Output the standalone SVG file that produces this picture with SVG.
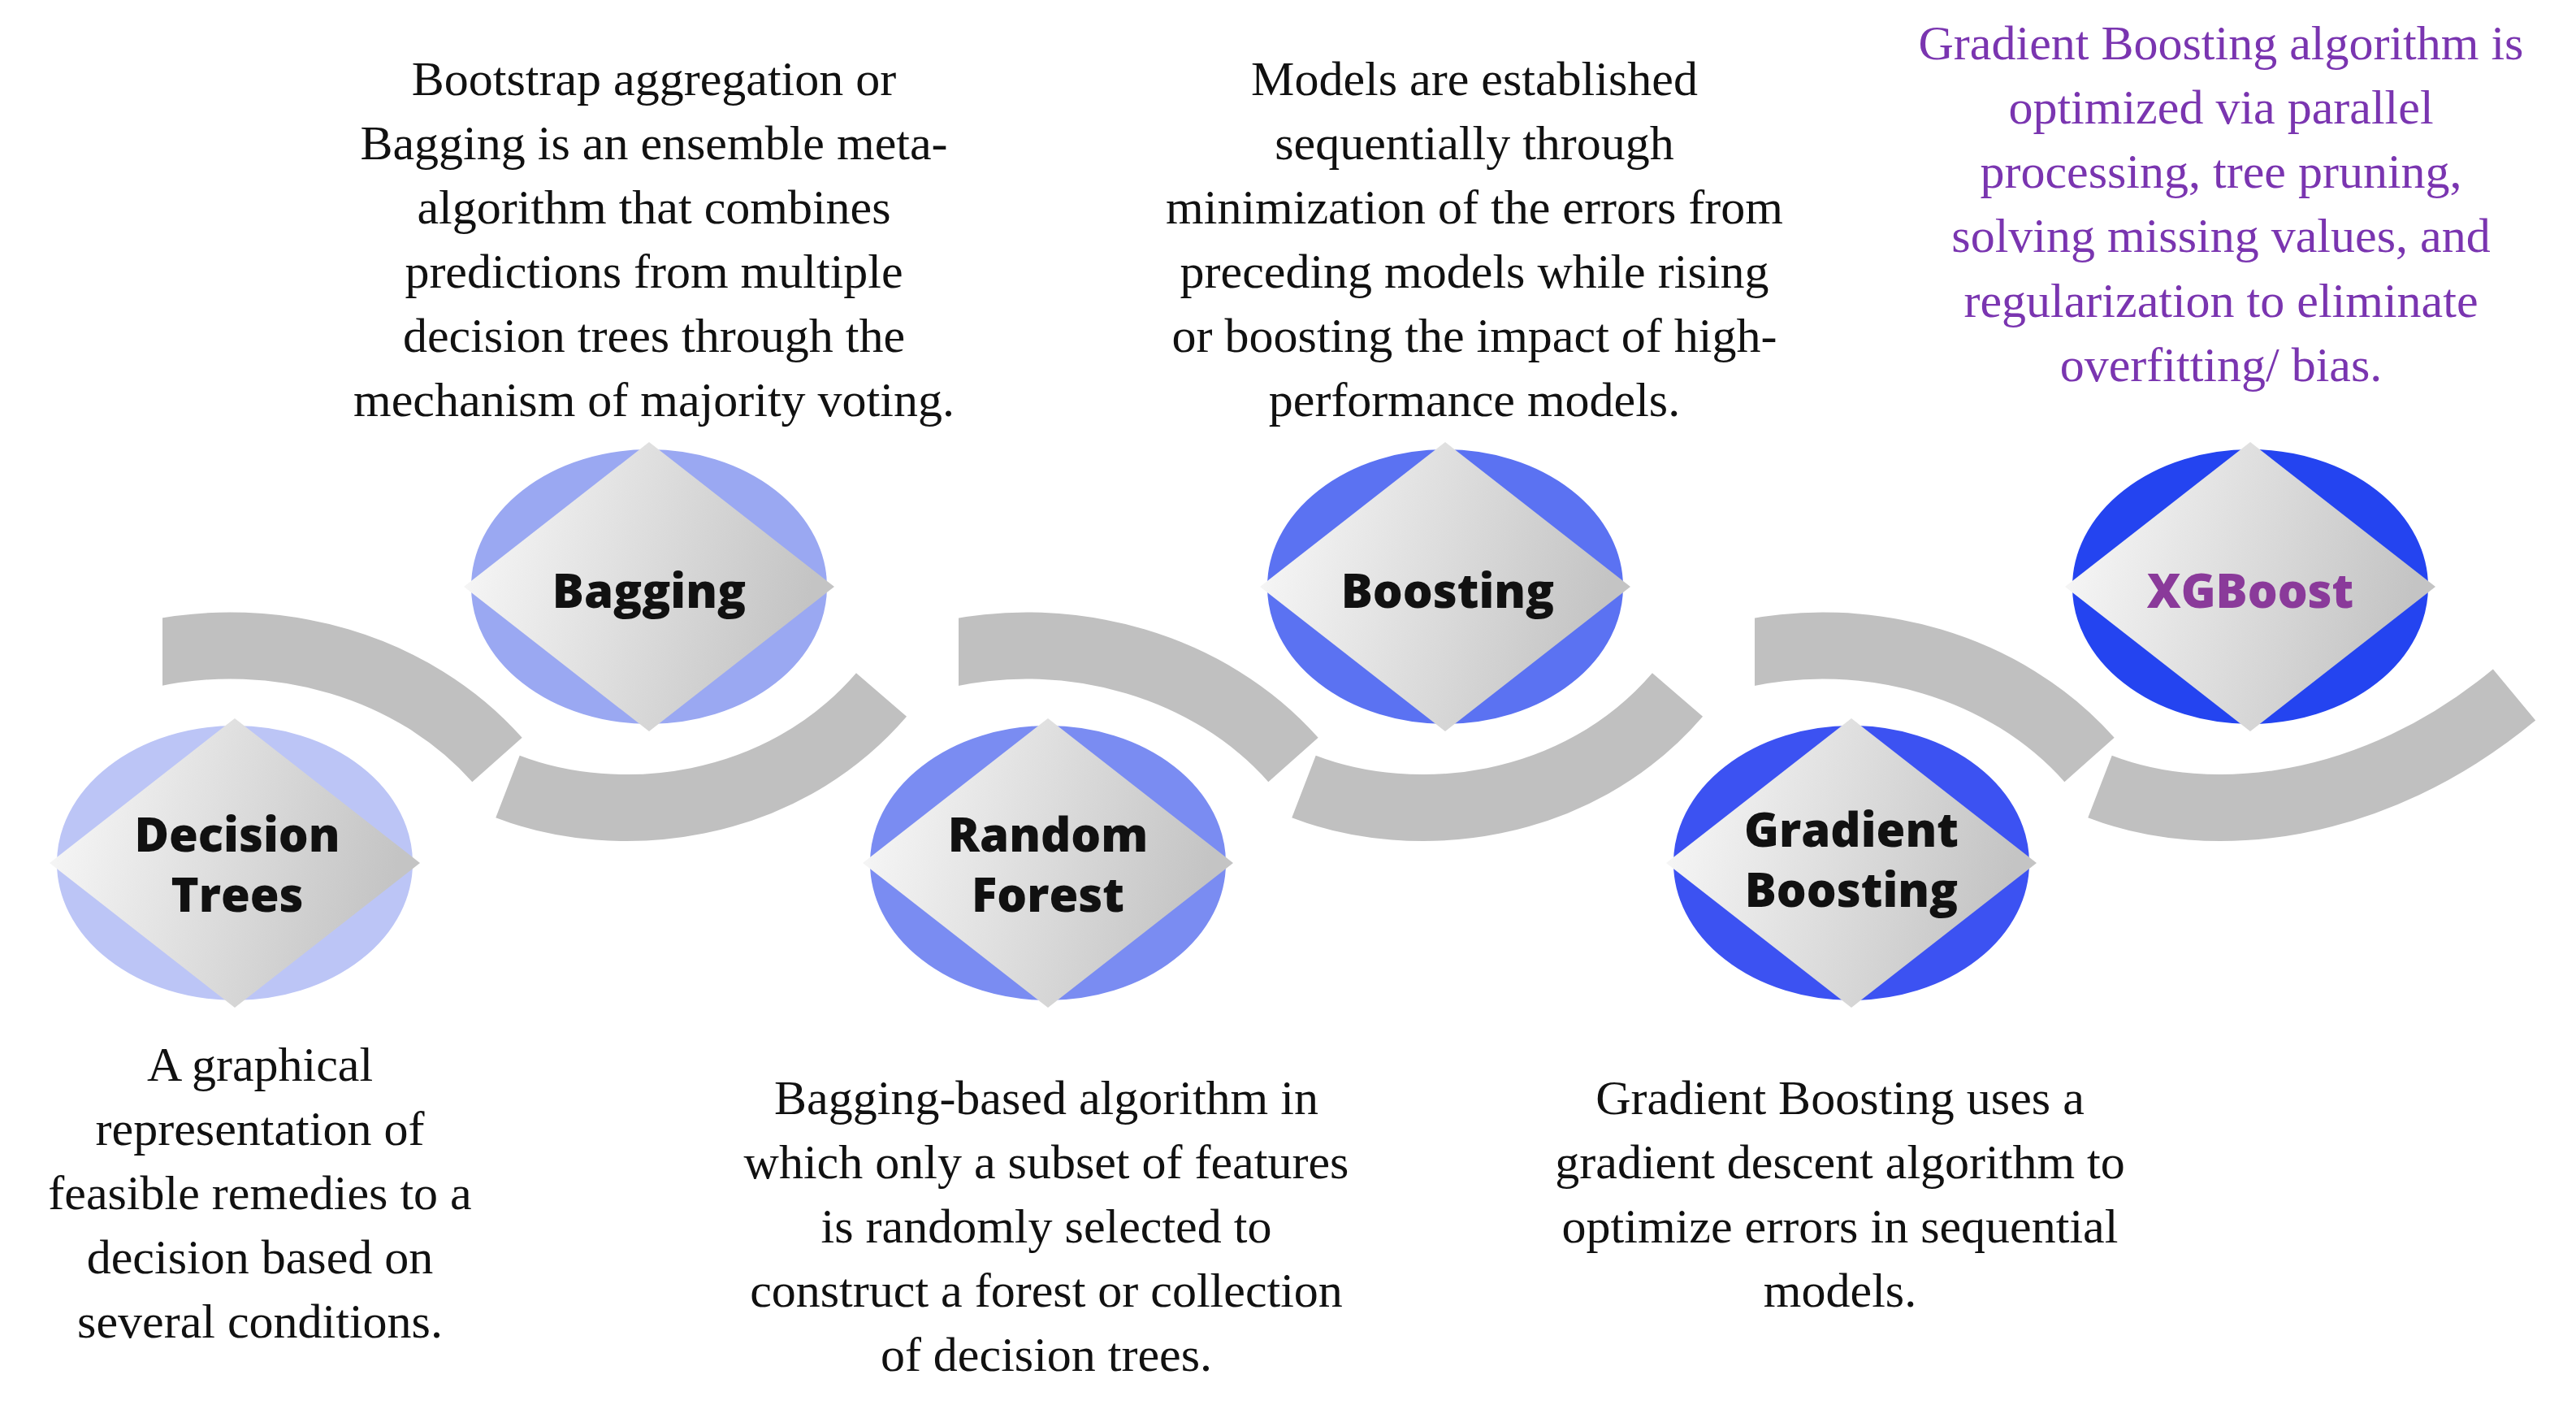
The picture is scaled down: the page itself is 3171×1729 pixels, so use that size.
<svg xmlns="http://www.w3.org/2000/svg" width="3171" height="1729" viewBox="0 0 3171 1729">
<style>
.arc{fill:none;stroke:#c0c0c0;stroke-width:82;stroke-linecap:butt}
.ring{stroke:#ffffff;stroke-width:22}
.lbl{font-family:"Open Sans","DejaVu Sans",sans-serif;font-weight:800;font-size:58px;text-anchor:middle;fill:#111}
.body{font-family:"Liberation Serif",serif;font-size:60px;text-anchor:middle;fill:#111}
.purple{fill:#7a35b0}
</style>
<defs>
<linearGradient id="dg" x1="0" y1="0" x2="1" y2="0.2">
<stop offset="0" stop-color="#fafafa"/><stop offset="1" stop-color="#c4c4c4"/>
</linearGradient>
</defs>
<g id="connectors">
<path class="arc" d="M 180 806 C 340 770 510 820 612 935"/>
<path class="arc" d="M 625 968 C 760 1020 960 1000 1085 855"/>
<path class="arc" d="M 1160 806 C 1320 770 1490 820 1592 935"/>
<path class="arc" d="M 1605 968 C 1740 1020 1940 1000 2065 855"/>
<path class="arc" d="M 2140 806 C 2300 770 2470 820 2572 935"/>
<path class="arc" d="M 2585 968 C 2720 1020 2920 1000 3095 855"/>
<polygon points="110,765 200,760 200,848 165,848" fill="#fff"/>
<polygon points="1090,765 1180,760 1180,848 1145,848" fill="#fff"/>
<polygon points="2070,765 2160,760 2160,848 2125,848" fill="#fff"/>
</g>
<g id="n1">
<ellipse class="ring" cx="289" cy="1062" rx="230" ry="180" fill="#bcc5f6"/>
<polygon points="289,884 517,1062 289,1240 61,1062" fill="url(#dg)"/>
<text class="lbl" x="292" y="1048">Decision</text><text class="lbl" x="292" y="1122">Trees</text>
</g>
<g id="n2">
<ellipse class="ring" cx="799" cy="722" rx="230" ry="180" fill="#9aa8f2"/>
<polygon points="799,544 1027,722 799,900 571,722" fill="url(#dg)"/>
<text class="lbl" x="799" y="748">Bagging</text>
</g>
<g id="n3">
<ellipse class="ring" cx="1290" cy="1062" rx="230" ry="180" fill="#7a8cf2"/>
<polygon points="1290,884 1518,1062 1290,1240 1062,1062" fill="url(#dg)"/>
<text class="lbl" x="1290" y="1048">Random</text><text class="lbl" x="1290" y="1122">Forest</text>
</g>
<g id="n4">
<ellipse class="ring" cx="1779" cy="722" rx="230" ry="180" fill="#5b72f2"/>
<polygon points="1779,544 2007,722 1779,900 1551,722" fill="url(#dg)"/>
<text class="lbl" x="1782" y="748">Boosting</text>
</g>
<g id="n5">
<ellipse class="ring" cx="2279" cy="1062" rx="230" ry="180" fill="#3c52f2"/>
<polygon points="2279,884 2507,1062 2279,1240 2051,1062" fill="url(#dg)"/>
<text class="lbl" x="2279" y="1042">Gradient</text><text class="lbl" x="2279" y="1116">Boosting</text>
</g>
<g id="n6">
<ellipse class="ring" cx="2770" cy="722" rx="230" ry="180" fill="#2444f0"/>
<polygon points="2770,544 2998,722 2770,900 2542,722" fill="url(#dg)"/>
<text class="lbl" x="2770" y="748" fill="#8a3a9a" style="fill:#8a3a9a">XGBoost</text>
</g>
<g id="texts">
<text class="body" x="805" y="117">Bootstrap aggregation or</text>
<text class="body" x="805" y="196">Bagging is an ensemble meta-</text>
<text class="body" x="805" y="275">algorithm that combines</text>
<text class="body" x="805" y="354">predictions from multiple</text>
<text class="body" x="805" y="433">decision trees through the</text>
<text class="body" x="805" y="512">mechanism of majority voting.</text>
<text class="body" x="1815" y="117">Models are established</text>
<text class="body" x="1815" y="196">sequentially through</text>
<text class="body" x="1815" y="275">minimization of the errors from</text>
<text class="body" x="1815" y="354">preceding models while rising</text>
<text class="body" x="1815" y="433">or boosting the impact of high-</text>
<text class="body" x="1815" y="512">performance models.</text>
<text class="body purple" x="2734" y="73">Gradient Boosting algorithm is</text>
<text class="body purple" x="2734" y="152">optimized  via parallel</text>
<text class="body purple" x="2734" y="231">processing, tree pruning,</text>
<text class="body purple" x="2734" y="310">solving missing values, and</text>
<text class="body purple" x="2734" y="390">regularization to eliminate</text>
<text class="body purple" x="2734" y="469">overfitting/ bias.</text>
<text class="body" x="320" y="1330">A graphical</text>
<text class="body" x="320" y="1409">representation of</text>
<text class="body" x="320" y="1488">feasible remedies to a</text>
<text class="body" x="320" y="1567">decision based on</text>
<text class="body" x="320" y="1646">several conditions.</text>
<text class="body" x="1288" y="1371">Bagging-based algorithm in</text>
<text class="body" x="1288" y="1450">which only a subset of features</text>
<text class="body" x="1288" y="1529">is randomly selected to</text>
<text class="body" x="1288" y="1608">construct a forest or collection</text>
<text class="body" x="1288" y="1687">of decision trees.</text>
<text class="body" x="2265" y="1371">Gradient Boosting uses a</text>
<text class="body" x="2265" y="1450">gradient descent algorithm to</text>
<text class="body" x="2265" y="1529">optimize errors in sequential</text>
<text class="body" x="2265" y="1608">models.</text>
</g>
</svg>
